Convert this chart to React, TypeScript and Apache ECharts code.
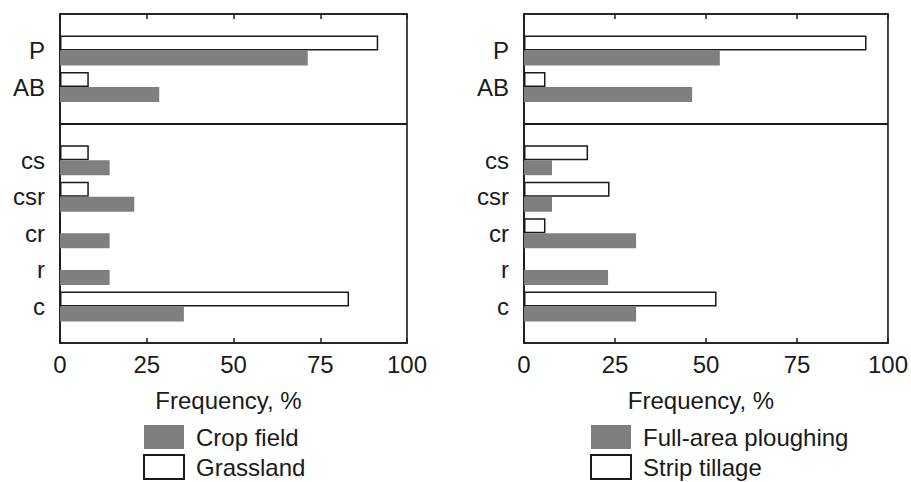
import React, { useEffect, useRef } from "react";
import * as echarts from "echarts";

const categories = ["P", "AB", "cs", "csr", "cr", "r", "c"];
// left panel
const cropField = [71.4, 28.6, 14.3, 21.4, 14.3, 14.3, 35.7];
const grassland = [91.7, 8.3, 8.3, 8.3, 0, 0, 83.3];
// right panel
const fullArea = [53.8, 46.2, 7.7, 7.7, 30.8, 23.1, 30.8];
const stripTillage = [94.1, 5.9, 17.6, 23.5, 5.9, 0, 52.9];
const xTicks = [0, 25, 50, 75, 100];

// slot layout: blank, P, AB, divider, cs, csr, cr, r, c, blank
const slots = [" ", "P", "AB", "  ", "cs", "csr", "cr", "r", "c", "   "];
const toSlots = (vals: number[]) =>
  slots.map((s) => {
    const i = categories.indexOf(s);
    return i >= 0 ? vals[i] : null;
  });

const FONT = "'Liberation Sans', Arial, Helvetica, sans-serif";
const BLACK = "#1a1a1a";
const GRAY = "#7f7f7f";

export default function App() {
  const ref = useRef<HTMLDivElement>(null);
  useEffect(() => {
    document.body.style.margin = "0";
    const chart = echarts.init(ref.current!, null, { renderer: "svg" });
    const grids = [
      { left: 60, right: 504, top: 14, bottom: 139 },
      { left: 524, right: 23, top: 14, bottom: 139 },
    ];
    const xAxes: any[] = [];
    const yAxes: any[] = [];
    grids.forEach((_, gi) => {
      const base = {
        type: "value",
        gridIndex: gi,
        min: xTicks[0],
        max: xTicks[xTicks.length - 1],
        interval: 25,
        splitLine: { show: false },
        axisLine: { show: true, lineStyle: { color: BLACK, width: 1.6 } },
        axisTick: { show: true, inside: true, length: 5, lineStyle: { color: BLACK, width: 1.5 } },
      };
      xAxes.push({
        ...base,
        position: "bottom",
        axisLabel: { show: true, fontSize: 24, color: BLACK, fontFamily: FONT, margin: 9 },
        name: "Frequency, %",
        nameLocation: "middle",
        nameGap: 45,
        nameTextStyle: { fontSize: 24, color: BLACK, fontFamily: FONT, padding: [0, 10, 0, 0] },
      });
      xAxes.push({
        ...base,
        position: "top",
        axisLabel: { show: false },
      });
      yAxes.push({
        type: "category",
        gridIndex: gi,
        inverse: true,
        boundaryGap: false,
        data: slots,
        axisLine: { show: true, lineStyle: { color: BLACK, width: 1.6 } },
        axisTick: { show: false },
        axisLabel: { fontSize: 24, color: BLACK, fontFamily: FONT, margin: 15, interval: 0 },
        splitLine: {
          show: true,
          interval: (idx: number) => idx === 3,
          lineStyle: { color: BLACK, width: 2 },
        },
      });
    });
    const white = {
      color: "#ffffff",
      borderColor: BLACK,
      borderWidth: 1.5,
    };
    const gray = { color: GRAY };
    const mkSeries = (name: string, data: number[], gi: number, style: any) => ({
      name,
      type: "bar",
      xAxisIndex: gi * 2,
      yAxisIndex: gi,
      data: toSlots(data),
      barWidth: 15,
      barGap: "0%",
      itemStyle: style,
      emphasis: { disabled: true },
    });
    const legendBase = {
      top: 425,
      orient: "vertical",
      icon: "rect",
      itemWidth: 40,
      itemHeight: 24,
      itemGap: 5,
      padding: 0,
      height: 57,
      selectedMode: false,
      textStyle: { fontSize: 24, color: BLACK, fontFamily: FONT, padding: [0, 0, 0, 7] },
    };
    chart.setOption({
      animation: false,
      textStyle: { fontFamily: FONT },
      grid: grids.map((g) => ({
        ...g,
        show: true,
        borderColor: BLACK,
        borderWidth: 1.6,
        backgroundColor: "transparent",
      })),
      xAxis: xAxes,
      yAxis: yAxes,
      legend: [
        { ...legendBase, data: ["Crop field", "Grassland"], left: 143 },
        { ...legendBase, data: ["Full-area ploughing", "Strip tillage"], left: 590 },
      ],
      series: [
        mkSeries("Grassland", grassland, 0, white),
        mkSeries("Crop field", cropField, 0, gray),
        mkSeries("Strip tillage", stripTillage, 1, white),
        mkSeries("Full-area ploughing", fullArea, 1, gray),
      ],
    });
    return () => chart.dispose();
  }, []);
  return <div ref={ref} style={{ width: 911, height: 482 }} />;
}
